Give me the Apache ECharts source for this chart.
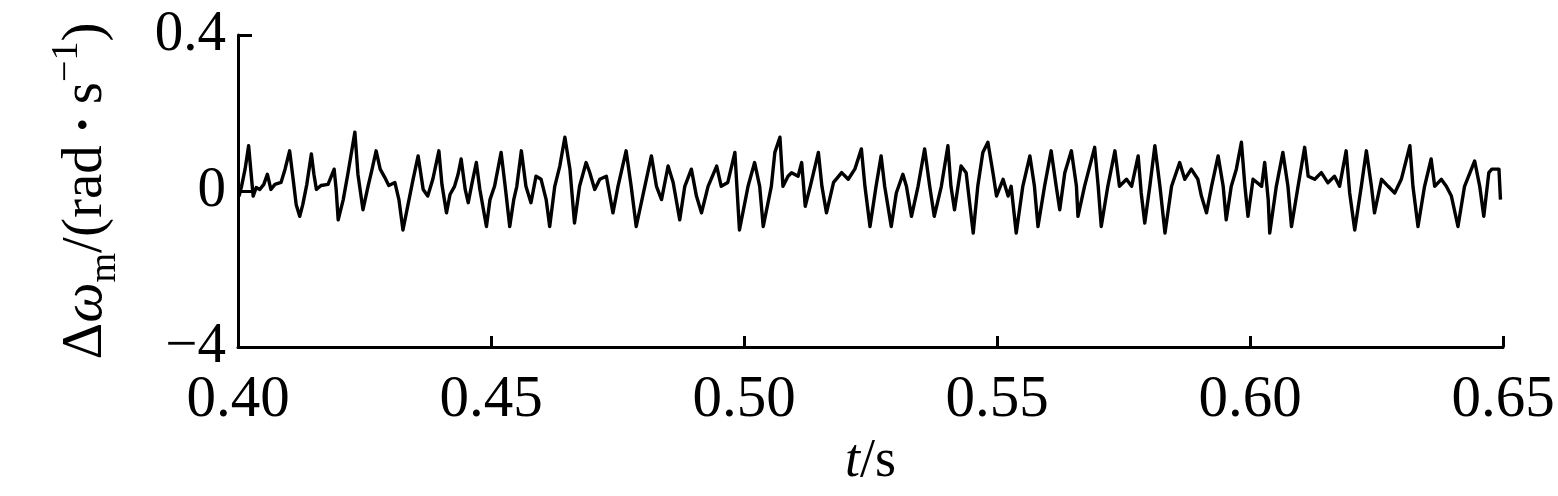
<!DOCTYPE html>
<html>
<head>
<meta charset="utf-8">
<script src="https://cdn.jsdelivr.net/npm/echarts@6/dist/echarts.min.js"></script>
<style>
html,body{margin:0;padding:0;background:#fff;}
#chart{width:1558px;height:496px;}
</style>
</head>
<body>
<div id="chart"></div>
<script>
// x tick labels (s) and y tick labels, as printed in the figure
var xTicks = [0.40, 0.45, 0.50, 0.55, 0.60, 0.65];
var yTickLabels = {"0.4": "0.4", "0": "0", "-0.4": "\u22124"};

// time samples (s)
var times = [
0.4002,0.4007,0.4014,0.4021,0.4026,0.4030,0.4036,0.4043,0.4051,0.4058,0.4065,0.4073,0.4085,0.4093,0.4102,0.4109,0.4115,0.4122,0.4128,0.4136,
0.4145,0.4150,0.4155,0.4164,0.4178,0.4190,0.4194,0.4198,0.4208,0.4217,0.4231,0.4237,0.4247,0.4257,0.4265,0.4273,0.4281,0.4290,0.4298,0.4310,
0.4318,0.4326,0.4336,0.4346,0.4356,0.4366,0.4375,0.4385,0.4397,0.4403,0.4412,0.4419,0.4428,0.4435,0.4441,0.4449,0.4455,0.4462,0.4471,0.4478,
0.4491,0.4498,0.4507,0.4520,0.4528,0.4537,0.4545,0.4551,0.4560,0.4569,0.4579,0.4589,0.4599,0.4609,0.4616,0.4626,0.4636,0.4646,0.4656,0.4665,
0.4675,0.4688,0.4695,0.4705,0.4715,0.4728,0.4741,0.4751,0.4767,0.4777,0.4787,0.4804,0.4817,0.4827,0.4837,0.4850,0.4860,0.4873,0.4883,0.4896,
0.4906,0.4916,0.4929,0.4946,0.4955,0.4968,0.4982,0.4991,0.5008,0.5021,0.5031,0.5038,0.5054,0.5061,0.5071,0.5077,0.5087,0.5094,0.5107,0.5114,
0.5121,0.5131,0.5147,0.5154,0.5163,0.5177,0.5193,0.5206,0.5219,0.5232,0.5239,0.5249,0.5261,0.5271,0.5278,0.5291,0.5301,0.5314,0.5321,0.5331,
0.5344,0.5357,0.5367,0.5376,0.5390,0.5403,0.5409,0.5416,0.5429,0.5439,0.5446,0.5453,0.5462,0.5472,0.5482,0.5492,0.5499,0.5512,0.5522,0.5528,
0.5538,0.5551,0.5565,0.5574,0.5581,0.5594,0.5607,0.5617,0.5624,0.5634,0.5647,0.5657,0.5660,0.5673,0.5693,0.5700,0.5706,0.5719,0.5733,0.5742,
0.5756,0.5766,0.5779,0.5785,0.5792,0.5802,0.5812,0.5822,0.5832,0.5845,0.5861,0.5871,0.5884,0.5897,0.5904,0.5914,0.5924,0.5937,0.5947,0.5953,
0.5963,0.5973,0.5983,0.5990,0.5996,0.6006,0.6023,0.6029,0.6036,0.6039,0.6052,0.6065,0.6075,0.6082,0.6095,0.6108,0.6115,0.6128,0.6141,0.6154,
0.6167,0.6177,0.6190,0.6197,0.6207,0.6220,0.6230,0.6240,0.6246,0.6260,0.6273,0.6286,0.6299,0.6316,0.6322,0.6332,0.6345,0.6358,0.6365,0.6378,
0.6388,0.6398,0.6411,0.6424,0.6444,0.6454,0.6462,0.6472,0.6478,0.6492,0.6495
];

// speed deviation values (rad/s)
var values = [
-0.014,0.012,0.056,0.116,0.043,-0.013,0.009,0.004,0.017,0.043,0.004,0.017,0.022,0.056,0.103,0.030,-0.035,-0.065,-0.035,0.017,
0.095,0.043,0.004,0.014,0.017,0.056,0.004,-0.074,-0.022,0.043,0.151,0.043,-0.048,0.012,0.056,0.103,0.056,0.035,0.014,0.022,
-0.022,-0.100,-0.035,0.030,0.090,0.004,-0.013,0.030,0.103,0.017,-0.056,-0.009,0.012,0.043,0.082,0.004,-0.030,0.017,0.073,0.004,
-0.091,-0.022,0.012,0.099,0.012,-0.091,-0.022,0.012,0.103,0.012,-0.030,0.038,0.030,-0.022,-0.091,0.012,0.064,0.138,0.056,-0.082,
0.012,0.073,0.048,0.004,0.030,0.038,-0.056,0.012,0.103,0.012,-0.091,0.012,0.090,0.012,-0.022,0.064,0.022,-0.074,0.012,0.056,
-0.013,-0.056,0.012,0.064,0.012,0.022,0.099,-0.100,0.012,0.073,0.012,-0.091,0.012,0.099,0.138,0.012,0.038,0.047,0.038,0.073,
-0.039,0.012,0.099,0.012,-0.056,0.022,0.047,0.030,0.056,0.108,0.012,-0.091,0.012,0.090,0.012,-0.091,-0.005,0.043,0.012,-0.065,
0.012,0.108,0.012,-0.065,0.012,0.116,0.012,-0.048,0.064,0.047,-0.031,-0.108,0.012,0.099,0.125,0.047,-0.013,0.030,-0.013,0.012,
-0.108,0.012,0.090,0.012,-0.091,0.012,0.103,0.012,-0.048,0.047,0.103,0.012,-0.065,0.012,0.112,0.012,-0.091,0.012,0.103,0.012,
0.030,0.012,0.090,-0.005,-0.082,0.012,0.116,0.012,-0.108,0.012,0.073,0.030,0.056,0.030,-0.013,-0.056,0.012,0.090,0.012,-0.074,
0.012,0.056,0.125,0.012,-0.065,0.030,0.012,0.073,-0.022,-0.108,0.012,0.099,0.012,-0.091,0.012,0.112,0.038,0.030,0.047,0.021,
0.038,0.012,0.103,-0.005,-0.100,0.012,0.103,0.012,-0.056,0.030,0.012,-0.005,0.030,0.116,0.012,-0.091,0.012,0.082,0.012,0.030,
0.012,-0.013,-0.091,0.012,0.077,0.012,-0.065,0.047,0.056,0.056,-0.022
];

var seriesData = times.map(function (t, i) { return [t, values[i]]; });

var FONT = '"Liberation Serif", "Times New Roman", serif';
var chart = echarts.init(document.getElementById('chart'), null, {renderer: 'canvas'});
chart.setOption({
  animation: false,
  backgroundColor: '#fff',
  grid: {left: 238, right: 55, top: 35, bottom: 149, containLabel: false},
  xAxis: {
    type: 'value',
    min: xTicks[0],
    max: xTicks[xTicks.length - 1],
    interval: 0.05,
    splitLine: {show: false},
    axisLine: {show: true, onZero: false, lineStyle: {color: '#000', width: 3}},
    axisTick: {show: true, inside: true, length: 11, lineStyle: {color: '#000', width: 3}},
    axisLabel: {
      color: '#000', fontFamily: FONT, fontSize: 59, margin: 24,
      formatter: function (v) { return v.toFixed(2); }
    },
    name: '{it|t}{n|/s}',
    nameLocation: 'middle',
    nameGap: 88,
    nameTextStyle: {
      rich: {
        it: {fontFamily: FONT, fontSize: 54, fontStyle: 'italic', color: '#000'},
        n: {fontFamily: FONT, fontSize: 54, color: '#000'}
      }
    }
  },
  yAxis: {
    type: 'value',
    min: -0.4,
    max: 0.4,
    interval: 0.4,
    splitLine: {show: false},
    axisLine: {show: true, onZero: false, lineStyle: {color: '#000', width: 3}},
    axisTick: {show: true, inside: true, length: 14, lineStyle: {color: '#000', width: 3}},
    axisLabel: {
      color: '#000', fontFamily: FONT, fontSize: 57, margin: 12,
      formatter: function (v) {
        var k = String(Math.round(v * 10) / 10);
        return yTickLabels[k] !== undefined ? yTickLabels[k] : k;
      }
    },
    name: '{n|\u0394}{it|\u03c9}{sub|m}{n|/(rad }{dot|\u2022}{n| s}{sup|\u22121}{n|)}',
    nameLocation: 'middle',
    nameRotate: 90,
    nameGap: 114,
    nameTextStyle: {
      rich: {
        n: {fontFamily: FONT, fontSize: 57, color: '#000', lineHeight: 76},
        it: {fontFamily: FONT, fontSize: 57, fontStyle: 'italic', color: '#000', lineHeight: 76},
        sub: {fontFamily: FONT, fontSize: 38, color: '#000', verticalAlign: 'bottom', lineHeight: 40},
        sup: {fontFamily: FONT, fontSize: 38, color: '#000', verticalAlign: 'top', lineHeight: 40},
        dot: {fontFamily: FONT, fontSize: 36, color: '#000', lineHeight: 76}
      }
    }
  },
  series: [{
    type: 'line',
    data: seriesData,
    showSymbol: false,
    symbol: 'none',
    lineStyle: {color: '#000', width: 3.4, join: 'round'},
    silent: true
  }]
});
</script>
</body>
</html>
